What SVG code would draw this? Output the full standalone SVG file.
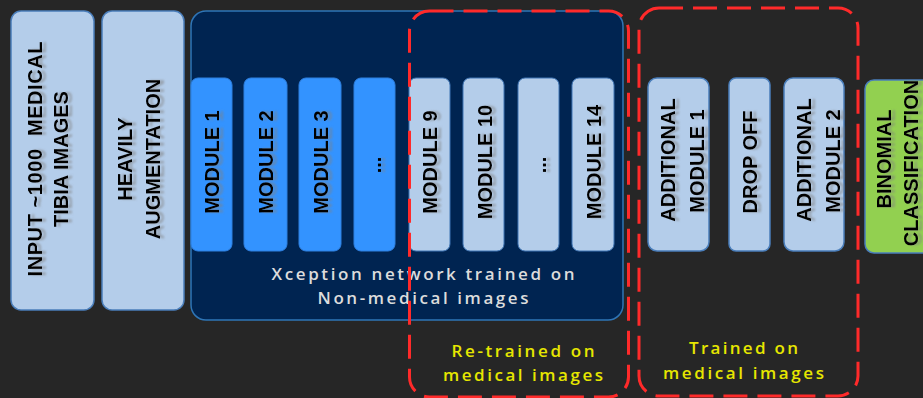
<svg xmlns="http://www.w3.org/2000/svg" width="923" height="398" viewBox="0 0 923 398">
<defs>
<filter id="sh" x="-10%" y="-50%" width="120%" height="200%">
<feGaussianBlur in="SourceAlpha" stdDeviation="1.3" result="b"/>
<feOffset in="b" dx="0" dy="4" result="o"/>
<feFlood flood-color="#808080" flood-opacity="0.55"/>
<feComposite in2="o" operator="in" result="s"/>
<feMerge><feMergeNode in="s"/><feMergeNode in="SourceGraphic"/></feMerge>
</filter>
</defs>
<style>
.light{fill:#b4cdea;stroke:#4a7ebb;stroke-width:1.5}
.bright{fill:#3393ff;stroke:#2f80e0;stroke-width:1}
.mod{fill:#b4cdea;stroke:#3f75b5;stroke-width:1}
.green{fill:#92d050;stroke:#4a7ebb;stroke-width:1.5}
.navy{fill:#002451;stroke:#2e75b6;stroke-width:1.5}
.dash{fill:none;stroke:#ff2a2a;stroke-width:3;stroke-dasharray:24 10}
.lbl{font-family:"Liberation Sans",Arial,sans-serif;font-weight:bold;font-size:20px;fill:#000;text-anchor:middle;filter:url(#sh)}
.cap{font-family:"Open Sans","Liberation Sans",sans-serif;font-weight:600;font-size:17px;text-anchor:middle}
.w{fill:#dcdcdc}
.y{fill:#e6e600}
</style>
<rect width="923" height="398" fill="#262626"/>
<g id="input">
<rect class="light" x="11" y="11" width="83" height="299" rx="10"/>
<text class="lbl" transform="translate(42,159) rotate(-90)" textLength="235" lengthAdjust="spacing">INPUT ~1000&#160; MEDICAL</text>
<text class="lbl" transform="translate(68,159) rotate(-90)">TIBIA IMAGES</text>
</g>
<g id="augmentation">
<rect class="light" x="102" y="11" width="82" height="299" rx="10"/>
<text class="lbl" transform="translate(132,159) rotate(-90)">HEAVILY</text>
<text class="lbl" transform="translate(160,159) rotate(-90)">AUGMENTATION</text>
</g>
<g id="xception">
<rect class="navy" x="191" y="11" width="432" height="309" rx="15"/>
<text class="cap w" x="423" y="280" textLength="303" lengthAdjust="spacing">Xception network trained on</text>
<text class="cap w" x="423" y="304" textLength="211" lengthAdjust="spacing">Non-medical images</text>
</g>
<g id="module1">
<rect class="bright" x="191" y="78" width="41" height="173" rx="7"/>
<text class="lbl" transform="translate(219,162) rotate(-90)">MODULE 1</text>
</g>
<g id="module2">
<rect class="bright" x="244" y="78" width="43" height="173" rx="7"/>
<text class="lbl" transform="translate(273,162) rotate(-90)">MODULE 2</text>
</g>
<g id="module3">
<rect class="bright" x="299" y="78" width="42" height="173" rx="7"/>
<text class="lbl" transform="translate(328,162) rotate(-90)">MODULE 3</text>
</g>
<g id="module-dots1">
<rect class="bright" x="354" y="78" width="41" height="173" rx="7"/>
<text class="lbl" transform="translate(381,165) rotate(-90)">...</text>
</g>
<g id="module9">
<rect class="mod" x="409" y="78" width="41" height="173" rx="7"/>
<text class="lbl" transform="translate(437,162) rotate(-90)">MODULE 9</text>
</g>
<g id="module10">
<rect class="mod" x="463" y="78" width="41" height="173" rx="7"/>
<text class="lbl" transform="translate(492,162) rotate(-90)">MODULE 10</text>
</g>
<g id="module-dots2">
<rect class="mod" x="518" y="78" width="41" height="173" rx="7"/>
<text class="lbl" transform="translate(546,165) rotate(-90)">...</text>
</g>
<g id="module14">
<rect class="mod" x="572" y="78" width="42" height="173" rx="7"/>
<text class="lbl" transform="translate(601,162) rotate(-90)">MODULE 14</text>
</g>
<g id="additional1">
<rect class="light" x="648" y="78" width="61" height="173" rx="9"/>
<text class="lbl" transform="translate(675,160) rotate(-90)">ADDITIONAL</text>
<text class="lbl" transform="translate(704,161) rotate(-90)">MODULE 1</text>
</g>
<g id="dropoff">
<rect class="light" x="729" y="78" width="41" height="173" rx="7"/>
<text class="lbl" transform="translate(757,162) rotate(-90)">DROP OFF</text>
</g>
<g id="additional2">
<rect class="light" x="784" y="78" width="60" height="173" rx="9"/>
<text class="lbl" transform="translate(811,160) rotate(-90)">ADDITIONAL</text>
<text class="lbl" transform="translate(840,161) rotate(-90)">MODULE 2</text>
</g>
<g id="binomial">
<rect class="green" x="865" y="80" width="70" height="173" rx="9"/>
<text class="lbl" transform="translate(891,159) rotate(-90)">BINOMIAL</text>
<text class="lbl" transform="translate(918,163) rotate(-90)">CLASSIFICATION</text>
</g>
<g id="retrained">
<rect class="dash" x="409.5" y="11" width="219" height="386" rx="20"/>
<text class="cap y" x="523" y="357" textLength="143" lengthAdjust="spacing">Re-trained on</text>
<text class="cap y" x="523" y="381" textLength="160" lengthAdjust="spacing">medical images</text>
</g>
<g id="trained">
<rect class="dash" x="639" y="8" width="219" height="388" rx="20"/>
<text class="cap y" x="743.5" y="354" textLength="109" lengthAdjust="spacing">Trained on</text>
<text class="cap y" x="743.5" y="379" textLength="161" lengthAdjust="spacing">medical images</text>
</g>
<g id="connectors"/>
</svg>
